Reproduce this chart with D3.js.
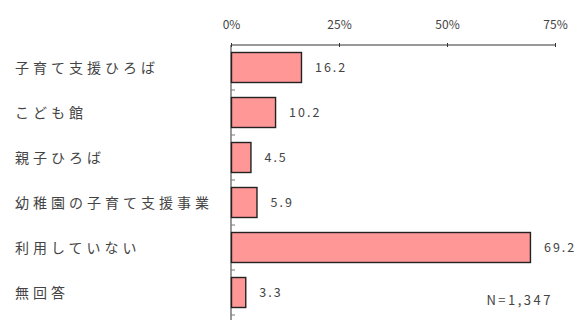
<!DOCTYPE html>
<html>
<head>
<meta charset="utf-8">
<script src="https://cdn.jsdelivr.net/npm/d3@7"></script>
<style>
  html, body { margin: 0; padding: 0; background: #fff; }
  svg { display: block; }
</style>
</head>
<body>
<div id="chart"></div>
<script>
// Usage of child-rearing support facilities (%, N=1,347)
const categories = ["子育て支援ひろば", "こども館", "親子ひろば", "幼稚園の子育て支援事業", "利用していない", "無回答"];
const values = [16.2, 10.2, 4.5, 5.9, 69.2, 3.3];
const tickValues = [0, 25, 50, 75];
const tickLabels = ["0%", "25%", "50%", "75%"];
const sampleNote = "N=1,347";

const width = 581, height = 320;
const plotLeft = 231, plotRight = 555, plotTop = 45, plotBottom = 315;

const svg = d3.select("#chart").append("svg")
  .attr("width", width).attr("height", height);

const x = d3.scaleLinear().domain([0, 75]).range([plotLeft, plotRight]);
const y = d3.scaleBand().domain(categories).range([plotTop, plotBottom])
  .paddingInner(1 / 3).paddingOuter(1 / 6);

const font = "'Noto Sans CJK JP', 'Noto Sans', sans-serif";
const ink = "#444";

// Top value axis
const xAxis = d3.axisTop(x).tickValues(tickValues)
  .tickFormat((d, i) => tickLabels[i]).tickSize(3).tickPadding(13);
const gx = svg.append("g").attr("transform", `translate(0,${plotTop})`).call(xAxis);
gx.select(".domain").attr("stroke", "#333").attr("d", `M${plotLeft},0H${plotRight}`);
gx.selectAll(".tick line").attr("stroke", "#333").attr("y1", 2).attr("y2", -2);
gx.selectAll(".tick text")
  .attr("font-family", font).attr("font-size", 12).attr("fill", ink);

// Left category axis line with small separators between bars
svg.append("line")
  .attr("x1", plotLeft).attr("x2", plotLeft).attr("y1", plotTop).attr("y2", height)
  .attr("stroke", "#333");
svg.selectAll("line.sep").data(categories).enter().append("line")
  .attr("class", "sep")
  .attr("x1", plotLeft).attr("x2", plotLeft + 4)
  .attr("y1", d => y(d) + y.bandwidth() + y.step() * y.paddingInner() / 2)
  .attr("y2", d => y(d) + y.bandwidth() + y.step() * y.paddingInner() / 2)
  .attr("stroke", "#777");

// Category labels
svg.selectAll("text.cat").data(categories).enter().append("text")
  .attr("class", "cat")
  .attr("x", 15)
  .attr("y", d => y(d) + y.bandwidth() / 2)
  .attr("dy", "0.36em")
  .attr("font-family", font).attr("font-size", 14)
  .attr("letter-spacing", "4px")
  .attr("fill", ink)
  .text(d => d);

// Bars
const data = categories.map((c, i) => ({ c, v: values[i] }));
svg.selectAll("rect.bar").data(data).enter().append("rect")
  .attr("class", "bar")
  .attr("x", x(0) + 0.5)
  .attr("y", d => y(d.c))
  .attr("width", d => x(d.v) - x(0))
  .attr("height", y.bandwidth())
  .attr("fill", "#ff9797")
  .attr("stroke", "#222").attr("stroke-width", 1.4);

// Value labels
svg.selectAll("text.val").data(data).enter().append("text")
  .attr("class", "val")
  .attr("x", d => x(d.v) + 14)
  .attr("y", d => y(d.c) + y.bandwidth() / 2)
  .attr("dy", "0.36em")
  .attr("font-family", font).attr("font-size", 12.5)
  .attr("letter-spacing", "2px")
  .attr("fill", ink)
  .text(d => d.v.toFixed(1));

// Sample size note
svg.append("text")
  .attr("x", 553).attr("y", 300).attr("dy", "0.36em")
  .attr("text-anchor", "end")
  .attr("font-family", font).attr("font-size", 13)
  .attr("letter-spacing", "2.5px")
  .attr("fill", ink)
  .text(sampleNote);
</script>
</body>
</html>
